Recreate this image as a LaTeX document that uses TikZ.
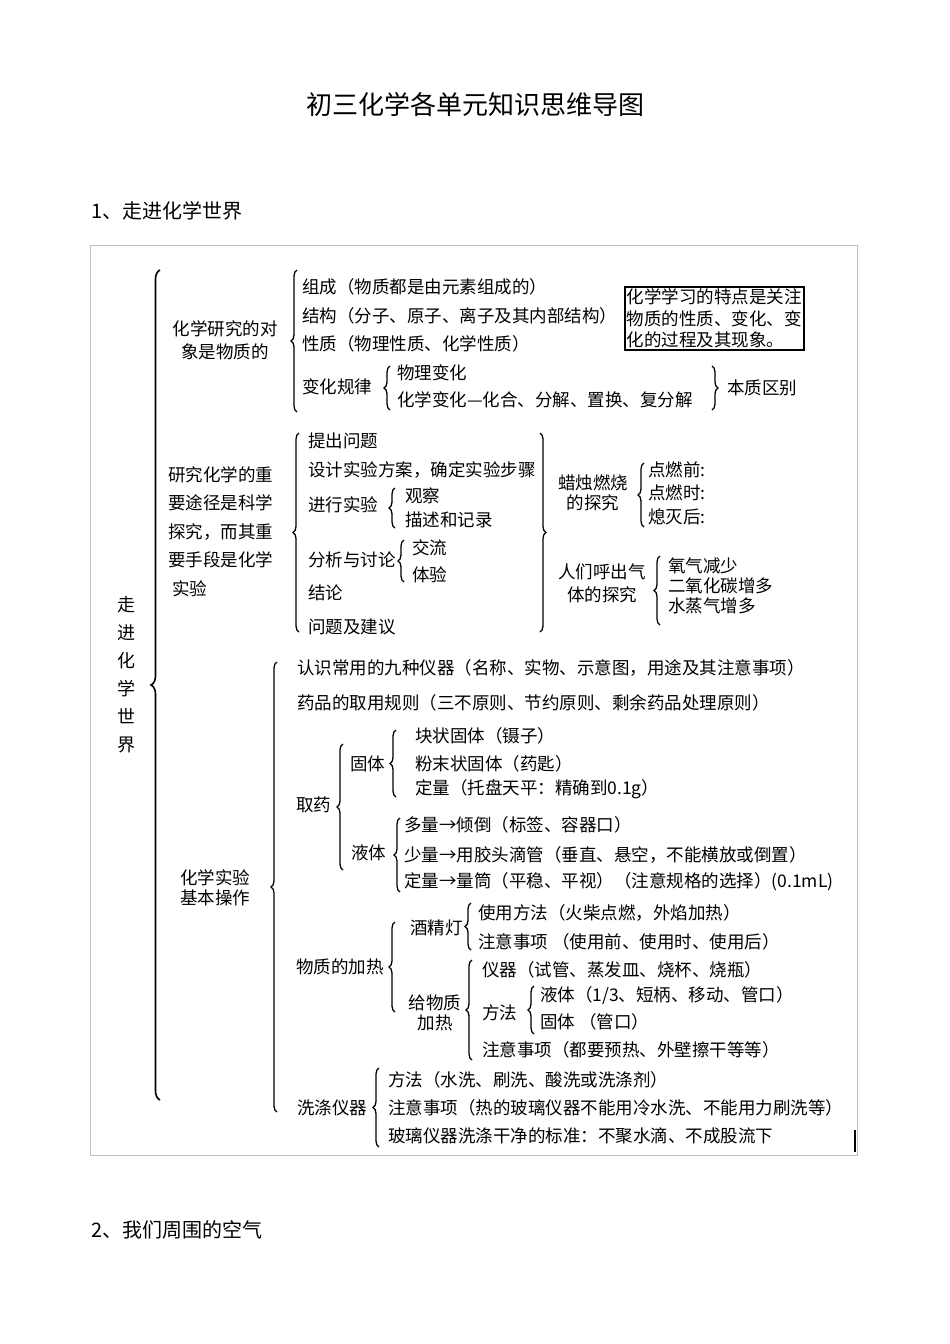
\documentclass[tikz,border=0pt]{standalone}
\usepackage{fontspec}
\setmainfont{Noto Sans CJK SC}
\usetikzlibrary{decorations.pathreplacing}
\begin{document}
\begin{tikzpicture}[x=1pt,y=-1pt,
  t/.style={anchor=west,inner sep=0pt,font=\fontsize{17.5}{19}\selectfont},
  c/.style={align=center,inner sep=0pt,font=\fontsize{17.5}{23}\selectfont},
  lb/.style={decorate,decoration={brace,amplitude=6pt},line width=1.3pt},
  bb/.style={decorate,decoration={brace,amplitude=9pt},line width=1.6pt}]
\useasboundingbox (0,0) rectangle (950,1344);
\node[font=\fontsize{26}{28}\selectfont] (title) at (475,105) {初三化学各单元知识思维导图};
\node[anchor=west,font=\fontsize{20}{22}\selectfont] (s1) at (88,211) {1、走进化学世界};
\node[anchor=west,font=\fontsize{20}{22}\selectfont] (s2) at (88,1230) {2、我们周围的空气};
\draw[gray!50] (90,245) rectangle (857,1155);
% root
\node[c,font=\fontsize{18}{28}\selectfont] (root) at (126,675) {走\\进\\化\\学\\世\\界};
\draw[bb] (160,1100) -- (160,270);
% group 1
\node[c] (g1) at (225,340) {化学研究的对\\象是物质的};
\draw[lb] (297,412) -- (297,270);
\node[t] (a1) at (302,287) {组成（物质都是由元素组成的）};
\node[t] (a2) at (302,316) {结构（分子、原子、离子及其内部结构）};
\node[t] (a3) at (302,344) {性质（物理性质、化学性质）};
\node[t] (a4) at (302,387) {变化规律};
\draw[lb] (390,410) -- (390,366);
\node[t] (a41) at (397,373) {物理变化};
\node[t] (a42) at (397,400) {化学变化—化合、分解、置换、复分解};
\draw[lb] (712,366) -- (712,410);
\node[t] (a43) at (727,388) {本质区别};
\node[draw,line width=1.6pt,align=left,inner sep=2pt,font=\fontsize{17.5}{21.5}\selectfont,anchor=north west] (box) at (624,286) {化学学习的特点是关注\\物质的性质、变化、变\\化的过程及其现象。};
% group 2
\node[anchor=north west,align=left,inner sep=0pt,font=\fontsize{17.5}{28.5}\selectfont] (g2) at (168,466) {研究化学的重\\要途径是科学\\探究，而其重\\要手段是化学\\\ 实验};
\draw[lb] (299,632) -- (299,433);
\node[t] (b1) at (308,441) {提出问题};
\node[t] (b2) at (308,470) {设计实验方案，确定实验步骤};
\node[t] (b3) at (308,505) {进行实验};
\draw[lb] (395,528) -- (395,488);
\node[t] (b31) at (405,496) {观察};
\node[t] (b32) at (405,520) {描述和记录};
\node[t] (b4) at (308,560) {分析与讨论};
\draw[lb] (404,582) -- (404,540);
\node[t] (b41) at (412,548) {交流};
\node[t] (b42) at (412,575) {体验};
\node[t] (b5) at (308,593) {结论};
\node[t] (b6) at (308,627) {问题及建议};
\draw[lb] (540,433) -- (540,632);
\node[c,font=\fontsize{17.5}{20}\selectfont] (b7) at (593,493) {蜡烛燃烧\\的探究};
\draw[lb] (644,527) -- (644,463);
\node[t] (b71) at (648,470) {点燃前:};
\node[t] (b72) at (648,493) {点燃时:};
\node[t] (b73) at (648,517) {熄灭后:};
\node[c,font=\fontsize{17.5}{23}\selectfont] (b8) at (602,583) {人们呼出气\\体的探究};
\draw[lb] (660,625) -- (660,556);
\node[t] (b81) at (668,566) {氧气减少};
\node[t] (b82) at (668,586) {二氧化碳增多};
\node[t] (b83) at (668,606) {水蒸气增多};
% group 3
\node[c,font=\fontsize{17.5}{20}\selectfont] (g3) at (215,888) {化学实验\\基本操作};
\draw[lb] (277,1112) -- (277,662);
\node[t] (c1) at (297,668) {认识常用的九种仪器（名称、实物、示意图，用途及其注意事项）};
\node[t] (c2) at (297,703) {药品的取用规则（三不原则、节约原则、剩余药品处理原则）};
\node[t] (c3) at (296,805) {取药};
\draw[lb] (343,870) -- (343,744);
\node[t] (c31) at (350,764) {固体};
\draw[lb] (396,797) -- (396,730);
\node[t] (c311) at (415,736) {块状固体（镊子）};
\node[t] (c312) at (415,764) {粉末状固体（药匙）};
\node[t] (c313) at (415,789) {定量（托盘天平：精确到0.1g）};
\node[t] (c32) at (351,853) {液体};
\draw[lb] (400,892) -- (400,818);
\node[t] (c321) at (404,825) {多量→倾倒（标签、容器口）};
\node[t] (c322) at (404,855) {少量→用胶头滴管（垂直、悬空，不能横放或倒置）};
\node[t] (c323) at (404,882) {定量→量筒（平稳、平视）（注意规格的选择）(0.1mL)};
\node[t] (c4) at (296,967) {物质的加热};
\draw[lb] (395,1012) -- (395,922);
\node[t] (c41) at (410,928) {酒精灯};
\draw[lb] (471,950) -- (471,903);
\node[t] (c411) at (478,913) {使用方法（火柴点燃，外焰加热）};
\node[t] (c412) at (478,942) {注意事项 （使用前、使用时、使用后）};
\node[c,font=\fontsize{17.5}{20}\selectfont] (c42) at (435,1013) {给物质\\加热};
\draw[lb] (472,1060) -- (472,960);
\node[t] (c421) at (482,970) {仪器（试管、蒸发皿、烧杯、烧瓶）};
\node[t] (c422) at (482,1013) {方法};
\draw[lb] (534,1034) -- (534,986);
\node[t] (c4221) at (540,996) {液体（1/3、短柄、移动、管口）};
\node[t] (c4222) at (540,1022) {固体 （管口）};
\node[t] (c423) at (482,1050) {注意事项（都要预热、外壁擦干等等）};
\node[t] (c5) at (297,1108) {洗涤仪器};
\draw[lb] (379,1147) -- (379,1068);
\node[t] (c51) at (388,1080) {方法（水洗、刷洗、酸洗或洗涤剂）};
\node[t] (c52) at (388,1108) {注意事项（热的玻璃仪器不能用冷水洗、不能用力刷洗等）};
\node[t] (c53) at (388,1136) {玻璃仪器洗涤干净的标准：不聚水滴、不成股流下};
\draw[line width=2pt] (855,1130) -- (855,1152);
\end{tikzpicture}
\end{document}
